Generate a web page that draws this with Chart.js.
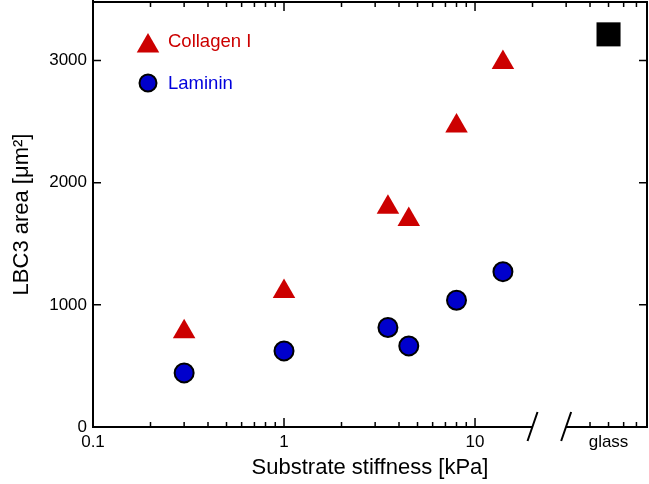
<!DOCTYPE html>
<html>
<head>
<meta charset="utf-8">
<script src="https://cdn.jsdelivr.net/npm/chart.js@4/dist/chart.umd.min.js"></script>
<style>
  body { margin: 0; background: #fff; }
  #wrap { width: 649px; height: 484px; }
</style>
</head>
<body>
<div id="wrap"><canvas id="myChart" width="649" height="484"></canvas></div>
<script>
// substrate stiffness [kPa]
const stiffness = [0.3, 1, 3.5, 4.5, 8, 14];
// LBC3 area [um^2]
const collagenArea = [780, 1110, 1800, 1700, 2465, 2985];
const lamininArea = [443, 623, 815, 664, 1038, 1272];
// glass substrate, placed at 50 on the broken axis
const glassX = [50];
const glassArea = [3215];

const yTicks = [0, 1000, 2000, 3000];
const xTicks = [0.1, 1, 10, 50];
const xTickLabels = ['0.1', '1', '10', 'glass'];
const xMajor = [1, 10];
const xMinorBottom = [0.2, 0.3, 0.4, 0.5, 0.6, 0.7, 0.8, 0.9, 2, 3, 4, 5, 6, 7, 8, 9, 40, 50, 60, 70];
const xMinorTop = [0.2, 0.3, 0.4, 0.5, 0.6, 0.7, 0.8, 0.9, 2, 3, 4, 5, 6, 7, 8, 9, 20, 30, 40, 50, 60, 70];
const xBreak = [20, 30];

const FONT = '"Liberation Sans", Arial, sans-serif';
const RED = '#cc0000';
const BLUE = '#0000cc';

// box frame, inward ticks, broken x axis and the legend
const frame = {
    id: 'frame',
    afterDatasetsDraw(chart) {
        const ctx = chart.ctx;
        const a = chart.chartArea;
        const x = chart.scales.x, y = chart.scales.y;
        ctx.save();
        ctx.strokeStyle = '#000';
        ctx.lineWidth = 1.5;
        ctx.beginPath();
        xMinorBottom.forEach(v => {
            const px = x.getPixelForValue(v);
            ctx.moveTo(px, a.bottom); ctx.lineTo(px, a.bottom - 5);
        });
        xMinorTop.forEach(v => {
            const px = x.getPixelForValue(v);
            ctx.moveTo(px, a.top); ctx.lineTo(px, a.top + 5);
        });
        xMajor.forEach(v => {
            const px = x.getPixelForValue(v);
            ctx.moveTo(px, a.bottom); ctx.lineTo(px, a.bottom - 9);
            ctx.moveTo(px, a.top); ctx.lineTo(px, a.top + 9);
        });
        yTicks.slice(1).forEach(v => {
            const py = y.getPixelForValue(v);
            ctx.moveTo(a.left, py); ctx.lineTo(a.left + 8, py);
            ctx.moveTo(a.right, py); ctx.lineTo(a.right - 8, py);
        });
        ctx.stroke();

        ctx.lineWidth = 2;
        ctx.beginPath();
        ctx.moveTo(a.left, 0); ctx.lineTo(a.left, a.bottom);
        ctx.moveTo(a.left - 1, a.top); ctx.lineTo(a.right, a.top);
        ctx.moveTo(a.right, a.top - 1); ctx.lineTo(a.right, a.bottom + 1);
        const b0 = x.getPixelForValue(xBreak[0]);
        const b1 = x.getPixelForValue(xBreak[1]);
        ctx.moveTo(a.left - 1, a.bottom); ctx.lineTo(b0, a.bottom);
        ctx.moveTo(b1, a.bottom); ctx.lineTo(a.right + 1, a.bottom);
        [b0, b1].forEach(px => {
            ctx.moveTo(px - 5, a.bottom + 14); ctx.lineTo(px + 5, a.bottom - 15);
        });
        ctx.stroke();

        // legend
        const lx = 148;
        ctx.fillStyle = RED;
        ctx.beginPath();
        const r = 13, ty = 46;
        ctx.moveTo(lx, ty - r);
        ctx.lineTo(lx + r * Math.sin(2 * Math.PI / 3), ty + r / 2);
        ctx.lineTo(lx - r * Math.sin(2 * Math.PI / 3), ty + r / 2);
        ctx.closePath();
        ctx.fill();
        ctx.beginPath();
        ctx.arc(lx, 83, 8.5, 0, 2 * Math.PI);
        ctx.fillStyle = BLUE;
        ctx.fill();
        ctx.lineWidth = 2;
        ctx.stroke();
        ctx.font = '18.5px ' + FONT;
        ctx.textBaseline = 'middle';
        ctx.textAlign = 'left';
        ctx.fillStyle = RED;
        ctx.fillText('Collagen I', 168, 42);
        ctx.fillStyle = '#0000dd';
        ctx.fillText('Laminin', 168, 84);
        ctx.restore();
    }
};

const toPoints = (xs, ys) => xs.map((v, i) => ({x: v, y: ys[i]}));

const ctx = document.getElementById('myChart').getContext('2d');
new Chart(ctx, {
    type: 'scatter',
    data: {
        datasets: [{
            label: 'glass',
            data: toPoints(glassX, glassArea),
            pointStyle: 'rect',
            pointRadius: 17,
            backgroundColor: '#000',
            borderWidth: 0
        }, {
            label: 'Collagen I',
            data: toPoints(stiffness, collagenArea),
            pointStyle: 'triangle',
            pointRadius: 13,
            backgroundColor: RED,
            borderWidth: 0
        }, {
            label: 'Laminin',
            data: toPoints(stiffness, lamininArea),
            pointStyle: 'circle',
            pointRadius: 9.5,
            backgroundColor: BLUE,
            borderColor: '#000',
            borderWidth: 2
        }]
    },
    options: {
        responsive: false,
        animation: false,
        devicePixelRatio: 1,
        layout: { autoPadding: false, padding: { top: 2, right: 2, left: 0, bottom: 0 } },
        plugins: { legend: { display: false }, tooltip: { enabled: false } },
        scales: {
            x: {
                type: 'logarithmic',
                min: 0.1,
                max: 79.5,
                grid: { display: false, drawTicks: false },
                border: { display: false },
                afterBuildTicks: s => { s.ticks = xTicks.map(v => ({value: v})); },
                afterFit: s => { s.height = 57; s.paddingLeft = 0; s.paddingRight = 0; },
                ticks: {
                    autoSkip: false,
                    maxRotation: 0,
                    padding: 5,
                    color: '#000',
                    font: { family: FONT, size: 17 },
                    callback: v => xTickLabels[xTicks.indexOf(v)]
                },
                title: {
                    display: true,
                    text: 'Substrate stiffness [kPa]',
                    color: '#000',
                    font: { family: FONT, size: 22 },
                    padding: { top: 0, bottom: 3 }
                }
            },
            y: {
                min: 0,
                max: 3480,
                grid: { display: false, drawTicks: false },
                border: { display: false },
                afterBuildTicks: s => { s.ticks = yTicks.map(v => ({value: v})); },
                afterFit: s => { s.width = 93; s.paddingTop = 0; s.paddingBottom = 0; },
                ticks: {
                    padding: 6,
                    color: '#000',
                    font: { family: FONT, size: 17 },
                    callback: v => String(v)
                },
                title: {
                    display: true,
                    text: 'LBC3 area [μm²]',
                    color: '#000',
                    font: { family: FONT, size: 22 },
                    padding: { top: 9, bottom: 0 }
                }
            }
        }
    },
    plugins: [frame]
});
</script>
</body>
</html>
